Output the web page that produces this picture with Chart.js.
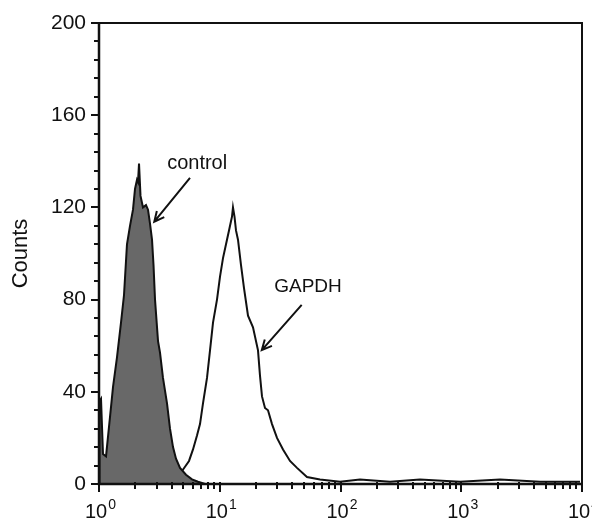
<!DOCTYPE html>
<html>
<head>
<meta charset="utf-8">
<script src="https://cdn.jsdelivr.net/npm/chart.js@4/dist/chart.umd.min.js"></script>
<style>
html, body { margin: 0; padding: 0; background: #fff; }
#wrap { width: 592px; height: 520px; }
</style>
</head>
<body>
<div id="wrap"><canvas id="facsChart"></canvas></div>
<script>
// control histogram (fluorescence intensity, counts)
const controlIntensity = [1.0, 1.01, 1.039, 1.079, 1.143, 1.233, 1.306, 1.41, 1.521, 1.611, 1.705, 1.806, 1.912, 1.987, 2.064, 2.104, 2.145, 2.207, 2.314, 2.45, 2.546, 2.645, 2.748, 2.828, 2.91, 3.082, 3.201, 3.388, 3.658, 3.873, 4.101, 4.342, 4.687, 5.255, 5.89, 6.604, 7.548];
const controlCounts = [0, 36, 37, 13, 12, 29, 42, 55, 70, 82, 104, 112, 119, 128, 132, 131, 139, 125, 120, 121, 119, 113, 106, 95, 80, 62, 57, 46, 35, 24, 16, 11, 7, 4, 2, 1, 0];

// GAPDH histogram
const gapdhIntensity = [1.0, 1.806, 2.185, 2.645, 3.201, 3.873, 4.426, 4.775, 5.155, 5.565, 6.004, 6.48, 6.862, 7.265, 7.842, 8.305, 8.794, 9.489, 10.05, 10.64, 11.48, 11.93, 12.39, 12.63, 12.87, 13.25, 13.63, 14.16, 15.0, 15.88, 17.14, 18.85, 20.74, 21.54, 22.38, 23.7, 25.09, 27.09, 29.79, 33.41, 38.18, 43.63, 52.79, 67.66, 99.1, 145, 257, 455, 976, 2094, 4490, 9626];
const gapdhCounts = [0, 0.5, 2, 1, 2, 3, 4, 5, 7.5, 10, 15, 21, 26, 35, 46, 58, 70, 80, 90, 98, 106, 110, 114, 116, 120, 116, 110, 106, 95, 85, 73, 68, 58, 47, 38, 33, 32, 26, 20, 15, 10, 7, 3, 2, 1, 2, 1, 2, 1, 2, 1, 1];

const yTickValues = [0, 40, 80, 120, 160, 200];
const yMinorStep = 8;
const xDecades = [1, 10, 100, 1000, 10000];
const xTickExponents = ["0", "1", "2", "3", "4"];

const notes = [
    { text: "control", size: 20, x: 6.5, y: 139, fromX: 5.67, fromY: 132.8, toX: 2.87, toY: 113.8 },
    { text: "GAPDH", size: 19, x: 53.8, y: 85.5, fromX: 47.7, fromY: 77.7, toX: 22.3, toY: 58.1 }
];

const ink = "#111111";
const fontFamily = "Arial, 'Liberation Sans', sans-serif";

const axisFrame = {
    id: "axisFrame",
    afterDatasetsDraw(chart) {
        const { ctx, chartArea: a, scales: { x, y } } = chart;
        ctx.save();
        ctx.strokeStyle = ink;
        ctx.lineWidth = 2;
        ctx.strokeRect(a.left, a.top, a.right - a.left, a.bottom - a.top);
        ctx.lineWidth = 2.5;
        ctx.beginPath();
        ctx.moveTo(a.left, a.top);
        ctx.lineTo(a.left, a.bottom);
        ctx.lineTo(a.right, a.bottom);
        ctx.stroke();

        ctx.lineWidth = 2;
        ctx.beginPath();
        for (let v = 0; v <= 200; v += yMinorStep) {
            const py = Math.round(y.getPixelForValue(v));
            const len = v % 40 === 0 ? 8 : 5;
            ctx.moveTo(a.left - len, py);
            ctx.lineTo(a.left, py);
        }
        xDecades.forEach((d, i) => {
            const last = i === xDecades.length - 1;
            for (let k = 1; k <= (last ? 1 : 9); k++) {
                const px = Math.round(x.getPixelForValue(d * k));
                const len = k === 1 ? 8 : 5;
                ctx.moveTo(px, a.bottom - 2);
                ctx.lineTo(px, a.bottom + len);
            }
        });
        ctx.stroke();

        // decade labels: 10 with raised exponent
        ctx.fillStyle = ink;
        ctx.textBaseline = "alphabetic";
        ctx.textAlign = "left";
        xDecades.forEach((d, i) => {
            const px = x.getPixelForValue(d);
            ctx.font = "20px " + fontFamily;
            const wBase = ctx.measureText("10").width;
            ctx.font = "14px " + fontFamily;
            const wExp = ctx.measureText(xTickExponents[i]).width;
            const start = px - (wBase + wExp) / 2 + 1;
            ctx.font = "20px " + fontFamily;
            ctx.fillText("10", start, a.bottom + 34);
            ctx.font = "14px " + fontFamily;
            ctx.fillText(xTickExponents[i], start + wBase + 1, a.bottom + 25);
        });

        // arrows and labels
        ctx.textAlign = "center";
        ctx.textBaseline = "middle";
        ctx.lineWidth = 2;
        notes.forEach(n => {
            ctx.font = n.size + "px " + fontFamily;
            ctx.fillText(n.text, x.getPixelForValue(n.x), y.getPixelForValue(n.y));
            const x1 = x.getPixelForValue(n.fromX), y1 = y.getPixelForValue(n.fromY);
            const x2 = x.getPixelForValue(n.toX), y2 = y.getPixelForValue(n.toY);
            const ang = Math.atan2(y2 - y1, x2 - x1);
            ctx.beginPath();
            ctx.moveTo(x1, y1);
            ctx.lineTo(x2, y2);
            ctx.moveTo(x2 - 11 * Math.cos(ang - 0.45), y2 - 11 * Math.sin(ang - 0.45));
            ctx.lineTo(x2, y2);
            ctx.lineTo(x2 - 11 * Math.cos(ang + 0.45), y2 - 11 * Math.sin(ang + 0.45));
            ctx.stroke();
        });
        ctx.restore();
    }
};

new Chart(document.getElementById("facsChart"), {
    type: "line",
    data: {
        datasets: [
            {
                label: "control",
                data: controlIntensity.map((v, i) => ({ x: v, y: controlCounts[i] })),
                borderColor: ink,
                borderWidth: 2,
                backgroundColor: "#686868",
                fill: "origin",
                pointRadius: 0,
                tension: 0
            },
            {
                label: "GAPDH",
                data: gapdhIntensity.map((v, i) => ({ x: v, y: gapdhCounts[i] })),
                borderColor: ink,
                borderWidth: 2,
                fill: false,
                pointRadius: 0,
                tension: 0
            }
        ]
    },
    options: {
        responsive: true,
        maintainAspectRatio: false,
        animation: false,
        layout: { padding: { left: 8, top: 23, right: 10, bottom: 0 } },
        plugins: {
            legend: { display: false },
            tooltip: { enabled: false }
        },
        scales: {
            x: {
                type: "logarithmic",
                min: 1,
                max: 10000,
                afterBuildTicks: scale => {
                    scale.ticks = xDecades.map(v => ({ value: v }));
                },
                afterFit: scale => {
                    scale.height = 36;
                    scale.paddingLeft = 0;
                    scale.paddingRight = 0;
                },
                grid: { display: false, drawTicks: false },
                border: { display: false },
                ticks: { display: false }
            },
            y: {
                min: 0,
                max: 200,
                afterBuildTicks: scale => {
                    scale.ticks = yTickValues.map(v => ({ value: v }));
                },
                afterFit: scale => {
                    scale.width = 91;
                    scale.paddingTop = 0;
                    scale.paddingBottom = 0;
                },
                grid: { display: false, drawTicks: false },
                border: { display: false },
                title: {
                    display: true,
                    text: "Counts",
                    color: ink,
                    font: { family: fontFamily, size: 22 },
                    padding: { top: 0, bottom: 0 }
                },
                ticks: {
                    padding: 13,
                    color: ink,
                    font: { family: fontFamily, size: 21 }
                }
            }
        }
    },
    plugins: [axisFrame]
});
</script>
</body>
</html>
